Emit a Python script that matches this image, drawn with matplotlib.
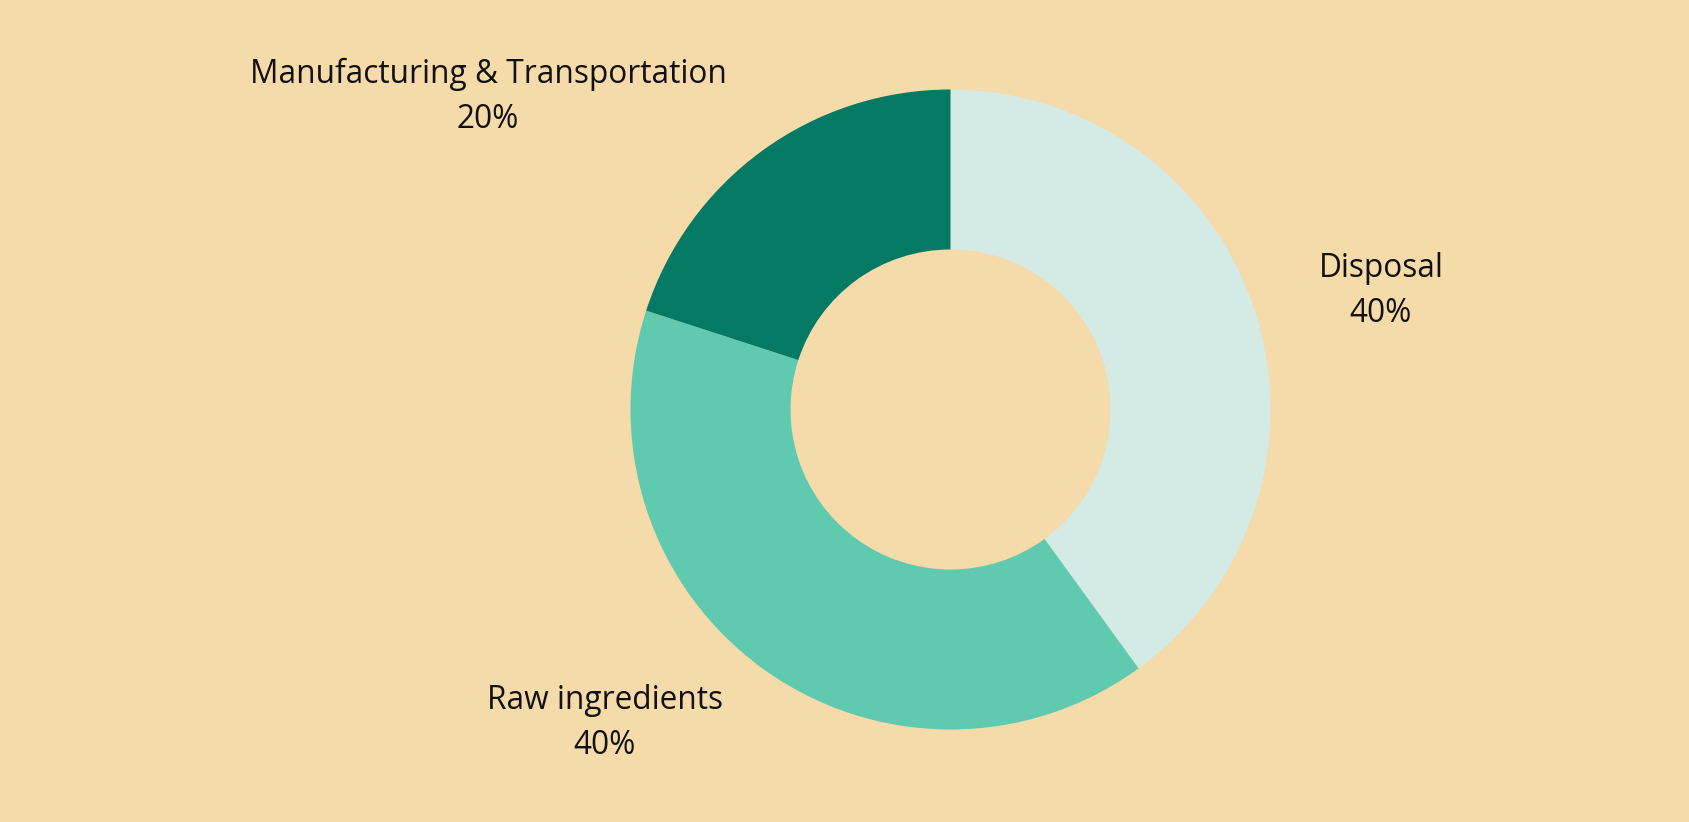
import matplotlib.pyplot as plt

labels = ['Disposal', 'Raw ingredients', 'Manufacturing & Transportation']
shares = [40, 40, 20]
colors = ['#D4EAE4', '#60CAB0', '#047A64']

bg = '#F5DAAA'
W, H = 1690, 822

fig = plt.figure(figsize=(W / 100, H / 100), dpi=100, facecolor=bg)
ax = fig.add_axes([0, 0, 1, 1])
ax.set_facecolor(bg)

cx, cy, r = 950.5, H - 409.5, 320
ax.pie(shares, colors=colors, startangle=90, counterclock=False,
       center=(cx, cy), radius=r, frame=True,
       wedgeprops=dict(width=r * 0.5, linewidth=0))
ax.set_xlim(0, W)
ax.set_ylim(0, H)
ax.set_aspect('equal')
ax.axis('off')

# label anchor points (pixel coords from top-left)
label_pos = [(1381, 291), (605, 723), (488, 97)]
for name, pct, (x, y) in zip(labels, shares, label_pos):
    ax.text(x, H - y, '%s\n%d%%' % (name, pct), ha='center', va='center',
            fontsize=22.8, family='Open Sans', color='#111111',
            linespacing=1.45)

fig.savefig('out.png', dpi=100, facecolor=bg)
